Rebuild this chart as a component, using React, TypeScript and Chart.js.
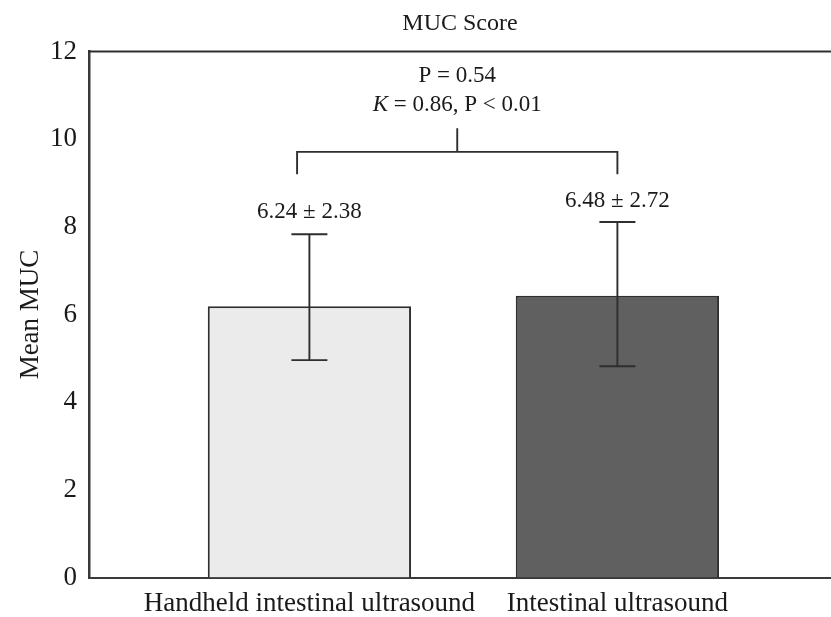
import React, { useEffect, useRef } from 'react';
import { Chart, registerables } from 'chart.js';

Chart.register(...registerables);

const categories = ['Handheld intestinal ultrasound', 'Intestinal ultrasound'];
const xPositions = [1, 2];
const means = [6.19, 6.43];
const errLow = [4.96, 4.82];
const errHigh = [7.83, 8.11];
const meanLabels = ['6.24 ± 2.38', '6.48 ± 2.72'];
const meanLabelY = [8.35, 8.58];
const yTicks = [0, 2, 4, 6, 8, 10, 12];
const barFills = ['#ebebeb', '#606060'];
const bracketX = [0.96, 2];
const bracketY = [9.2, 9.71, 10.25];
const pText = 'P = 0.54';
const kappaSymbol = 'K';
const kappaText = ' = 0.86, P < 0.01';
const statY = [11.44, 10.78];

const FAMILY = '"Liberation Serif", "Times New Roman", serif';
const TEXT = '#1a1a1a';
const LINE = '#2e2e2e';

const overlay = {
  id: 'overlay',
  afterDatasetsDraw(chart: any) {
    const { ctx, chartArea, scales } = chart;
    const xs = scales.x;
    const ys = scales.y;
    ctx.save();
    ctx.strokeStyle = LINE;
    ctx.lineWidth = 2;
    ctx.beginPath();
    ctx.moveTo(chartArea.left - 1, chartArea.top);
    ctx.lineTo(chartArea.right, chartArea.top);
    ctx.stroke();

    ctx.lineWidth = 1.9;
    xPositions.forEach((p, i) => {
      const x = xs.getPixelForValue(p);
      const yl = ys.getPixelForValue(errLow[i]);
      const yh = ys.getPixelForValue(errHigh[i]);
      ctx.beginPath();
      ctx.moveTo(x, yl);
      ctx.lineTo(x, yh);
      ctx.moveTo(x - 18, yl);
      ctx.lineTo(x + 18, yl);
      ctx.moveTo(x - 18, yh);
      ctx.lineTo(x + 18, yh);
      ctx.stroke();
    });

    const bx0 = xs.getPixelForValue(bracketX[0]);
    const bx1 = xs.getPixelForValue(bracketX[1]);
    const bmid = (bx0 + bx1) / 2;
    const yLeg = ys.getPixelForValue(bracketY[0]);
    const yBar = ys.getPixelForValue(bracketY[1]);
    const yTop = ys.getPixelForValue(bracketY[2]);
    ctx.beginPath();
    ctx.moveTo(bx0, yLeg);
    ctx.lineTo(bx0, yBar);
    ctx.lineTo(bx1, yBar);
    ctx.lineTo(bx1, yLeg);
    ctx.moveTo(bmid, yBar);
    ctx.lineTo(bmid, yTop);
    ctx.stroke();

    ctx.fillStyle = TEXT;
    ctx.textBaseline = 'middle';
    ctx.textAlign = 'center';
    ctx.font = `23px ${FAMILY}`;
    xPositions.forEach((p, i) => {
      ctx.fillText(meanLabels[i], xs.getPixelForValue(p), ys.getPixelForValue(meanLabelY[i]));
    });

    ctx.fillText(pText, bmid, ys.getPixelForValue(statY[0]));
    const italicFont = `italic 23px ${FAMILY}`;
    const normalFont = `23px ${FAMILY}`;
    ctx.font = italicFont;
    const wK = ctx.measureText(kappaSymbol).width;
    ctx.font = normalFont;
    const wR = ctx.measureText(kappaText).width;
    const startX = bmid - (wK + wR) / 2;
    const ky = ys.getPixelForValue(statY[1]);
    ctx.textAlign = 'left';
    ctx.font = italicFont;
    ctx.fillText(kappaSymbol, startX, ky);
    ctx.font = normalFont;
    ctx.fillText(kappaText, startX + wK, ky);
    ctx.restore();
  },
};

export default function App() {
  const canvasRef = useRef<HTMLCanvasElement | null>(null);

  useEffect(() => {
    if (!canvasRef.current) return;
    const chart = new Chart(canvasRef.current, {
      type: 'bar',
      data: {
        datasets: [
          {
            data: xPositions.map((p, i) => ({ x: p, y: means[i] })),
            backgroundColor: barFills,
            borderColor: LINE,
            borderWidth: 2,
            barPercentage: 0.66,
            categoryPercentage: 1,
          },
        ],
      },
      options: {
        animation: false,
        responsive: true,
        maintainAspectRatio: false,
        layout: { padding: { left: 0, right: 0, top: 0, bottom: -12.5 } },
        plugins: {
          legend: { display: false },
          tooltip: { enabled: false },
          title: {
            display: true,
            text: 'MUC Score',
            fullSize: false,
            color: TEXT,
            font: { family: FAMILY, size: 24, weight: 'normal', lineHeight: 1.2 },
            padding: { top: 9.6, bottom: 13.1 },
          },
        },
        scales: {
          x: {
            type: 'linear',
            offset: false,
            bounds: 'data',
            min: 0.2844,
            max: 2.6935,
            afterBuildTicks: (axis: any) => {
              axis.ticks = xPositions.map((v) => ({ value: v }));
            },
            ticks: {
              autoSkip: false,
              maxRotation: 0,
              minRotation: 0,
              padding: 12.5,
              color: TEXT,
              font: { family: FAMILY, size: 27, lineHeight: 1 },
              callback: (v: any) => {
                const idx = xPositions.indexOf(Number(v));
                return idx >= 0 ? categories[idx] : '';
              },
            },
            grid: { display: false, drawTicks: false, tickLength: 0, offset: false },
            border: { display: true, color: '#3a3a3a', width: 2 },
          },
          y: {
            min: 0,
            max: 12,
            afterBuildTicks: (axis: any) => {
              axis.ticks = yTicks.map((v) => ({ value: v }));
            },
            ticks: {
              padding: 12,
              color: TEXT,
              font: { family: FAMILY, size: 27, lineHeight: 1 },
            },
            grid: { display: false, drawTicks: false, tickLength: 0 },
            border: { display: true, color: '#3a3a3a', width: 2.5 },
            title: {
              display: true,
              text: 'Mean MUC',
              color: TEXT,
              font: { family: FAMILY, size: 27, lineHeight: 1 },
              padding: { top: 17.5, bottom: -6.5 },
            },
          },
        },
      },
      plugins: [overlay],
    });
    return () => chart.destroy();
  }, []);

  return (
    <div style={{ position: 'absolute', left: 0, top: 0, width: 831, height: 617, background: '#ffffff' }}>
      <canvas ref={canvasRef} />
    </div>
  );
}
